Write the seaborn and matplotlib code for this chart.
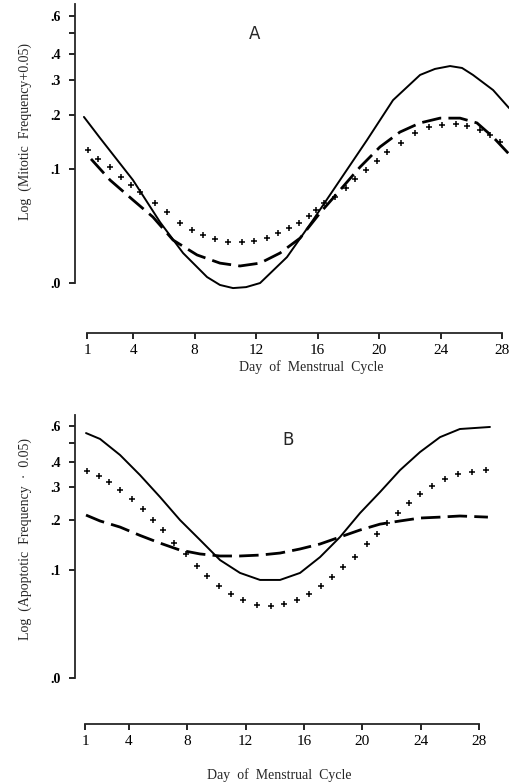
import numpy as np
import pandas as pd
import matplotlib
matplotlib.use("Agg")
import matplotlib.pyplot as plt
import seaborn as sns

# ---------------- data ----------------
# y values are Log10(frequency + 0.05)
day_ticks = [1, 4, 8, 12, 16, 20, 24, 28]
freq_ticks = [0.0, 0.1, 0.2, 0.3, 0.4, 0.5, 0.6]
freq_labels = [".0", ".1", ".2", ".3", ".4", "", ".6"]

# Panel A (mitotic)
a_solid_day = [0.80, 1.85, 3.99, 5.75, 7.25, 8.81, 9.65, 10.50, 11.35, 12.26, 14.01,
               15.70, 17.46, 19.22, 20.91, 22.67, 23.64, 24.62, 25.40, 26.11, 27.42, 28.46]
a_solid_log = [-0.609, -0.697, -0.872, -1.047, -1.176, -1.276, -1.309, -1.322, -1.318, -1.301,
               -1.193, -1.039, -0.872, -0.705, -0.539, -0.434, -0.409, -0.397, -0.405, -0.434,
               -0.497, -0.572]

a_dash_day = [1.26, 2.50, 3.99, 5.29, 6.60, 8.16, 9.65, 10.95, 12.26, 13.56, 14.86, 16.16,
              17.46, 18.76, 20.06, 21.36, 22.67, 23.97, 25.27, 26.37, 27.42, 28.46]
a_dash_log = [-0.784, -0.872, -0.955, -1.026, -1.122, -1.184, -1.218, -1.230, -1.218, -1.176,
              -1.114, -1.009, -0.914, -0.818, -0.734, -0.672, -0.634, -0.614, -0.614, -0.634,
              -0.693, -0.764]

a_cross_day = [1.07, 1.72, 2.50, 3.21, 3.86, 4.45, 5.42, 6.20, 7.05, 7.83, 8.55, 9.33, 10.17,
               11.08, 11.87, 12.71, 13.43, 14.14, 14.79, 15.44, 15.90, 16.42, 17.14, 17.85,
               18.44, 19.15, 19.87, 20.52, 21.43, 22.34, 23.25, 24.10, 25.01, 25.72, 26.57,
               27.22, 27.87]
a_cross_log = [-0.747, -0.784, -0.818, -0.859, -0.893, -0.922, -0.968, -1.005, -1.051, -1.080,
               -1.101, -1.118, -1.130, -1.130, -1.126, -1.114, -1.093, -1.072, -1.051, -1.022,
               -0.997, -0.968, -0.943, -0.905, -0.868, -0.830, -0.793, -0.755, -0.718, -0.676,
               -0.651, -0.643, -0.639, -0.647, -0.664, -0.684, -0.714]

# Panel B (apoptotic)
b_solid_day = [1.07, 2.03, 3.40, 4.77, 6.14, 7.51, 8.88, 10.25, 11.62, 12.99, 14.36, 15.73,
               17.10, 18.47, 19.84, 21.21, 22.58, 23.95, 25.32, 26.68, 28.74]
b_solid_log = [-0.217, -0.243, -0.314, -0.403, -0.500, -0.602, -0.690, -0.779, -0.836, -0.867,
               -0.867, -0.836, -0.766, -0.677, -0.571, -0.478, -0.381, -0.301, -0.235, -0.199,
               -0.190]

b_dash_day = [1.07, 2.03, 3.40, 4.77, 6.14, 7.51, 8.88, 10.25, 11.62, 12.99, 14.36, 15.73,
              17.10, 18.47, 19.84, 21.21, 22.58, 23.95, 25.32, 26.68, 28.60]
b_dash_log = [-0.580, -0.606, -0.633, -0.670, -0.704, -0.735, -0.752, -0.761, -0.761, -0.757,
              -0.748, -0.730, -0.708, -0.677, -0.646, -0.620, -0.606, -0.593, -0.589, -0.584,
              -0.589]

b_cross_day = [1.14, 1.96, 2.64, 3.40, 4.22, 4.97, 5.66, 6.34, 7.10, 7.92, 8.67, 9.36, 10.18,
               11.00, 11.82, 12.78, 13.74, 14.63, 15.52, 16.34, 17.16, 17.92, 18.67, 19.49,
               20.32, 21.00, 21.68, 22.44, 23.19, 23.95, 24.77, 25.66, 26.55, 27.51, 28.47]
b_cross_log = [-0.385, -0.407, -0.434, -0.469, -0.509, -0.553, -0.602, -0.646, -0.704, -0.752,
               -0.805, -0.850, -0.894, -0.929, -0.956, -0.978, -0.982, -0.974, -0.956, -0.929,
               -0.894, -0.854, -0.810, -0.766, -0.708, -0.664, -0.615, -0.571, -0.527, -0.487,
               -0.451, -0.420, -0.398, -0.389, -0.381]

# ---------------- style ----------------
sns.set_theme(style="ticks")
plt.rcParams["font.family"] = ["Liberation Serif", "DejaVu Serif"]
plt.rcParams["axes.linewidth"] = 1.3

W, H = 510, 783
fig = plt.figure(figsize=(W / 100, H / 100), dpi=100)


def px_axes(left, top, right, bottom):
    return fig.add_axes([left / W, 1 - bottom / H, (right - left) / W, (bottom - top) / H])


def draw_panel(ax, sd, sl, dd, dl, cd, cl, xlim, ylim, offset_pt):
    sns.lineplot(x=sd, y=sl, ax=ax, color="black", lw=1.4, sort=False, estimator=None)
    sns.lineplot(x=dd, y=dl, ax=ax, color="black", lw=2.0, sort=False, estimator=None,
                 linestyle=(0, (7, 2.6)))
    sns.scatterplot(x=cd, y=cl, ax=ax, marker="+", s=24, color="black", linewidth=1.1)
    ax.set_xlim(*xlim)
    ax.set_ylim(*ylim)
    yt = np.log10(np.array(freq_ticks) + 0.05)
    ax.set_yticks(yt)
    ax.set_yticklabels(freq_labels, fontsize=10, fontweight="bold")
    ax.set_xticks(day_ticks)
    ax.set_xticklabels([str(d) for d in day_ticks], fontsize=10, fontweight="bold")
    sns.despine(ax=ax)
    ax.spines["bottom"].set_position(("outward", offset_pt))
    ax.spines["bottom"].set_bounds(1, 28)
    ax.spines["left"].set_bounds(yt[0], ylim[1])
    ax.tick_params(axis="y", direction="out", length=4.5, width=1.2, pad=6, colors="black")
    ax.tick_params(axis="x", direction="out", length=4, width=1.2, pad=4, colors="black")
    ax.set_xlabel("")
    ax.set_ylabel("")
    ax.grid(False)


# Panel A
axA = px_axes(75, 4, 510, 290)
draw_panel(axA, a_solid_day, a_solid_log, a_dash_day, a_dash_log, a_cross_day, a_cross_log,
           (0.219, 28.52), (-1.330, -0.1385), 31)

# Panel B
axB = px_axes(75, 415, 492, 678)
draw_panel(axB, b_solid_day, b_solid_log, b_dash_day, b_dash_log, b_cross_day, b_cross_log,
           (0.315, 28.88), (-1.301, -0.137), 33)

# texts
fig.text(255 / W, 1 - 34 / H, "A", family="DejaVu Sans", fontsize=12, ha="center", va="center")
fig.text(288 / W, 1 - 440 / H, "B", family="DejaVu Sans", fontsize=12, ha="center", va="center")
fig.text(311 / W, 1 - 367 / H, "Day  of  Menstrual  Cycle", fontsize=10, ha="center", va="center")
fig.text(279 / W, 1 - 775 / H, "Day  of  Menstrual  Cycle", fontsize=10, ha="center", va="center")
fig.text(25 / W, 1 - 131 / H, "Log  (Mitotic  Frequency+0.05)", fontsize=10, rotation=90,
         ha="center", va="center")
fig.text(25 / W, 1 - 539 / H, "Log  (Apoptotic  Frequency  \u00b7  0.05)", fontsize=10,
         rotation=90, ha="center", va="center")

fig.savefig("out.png", dpi=100)
